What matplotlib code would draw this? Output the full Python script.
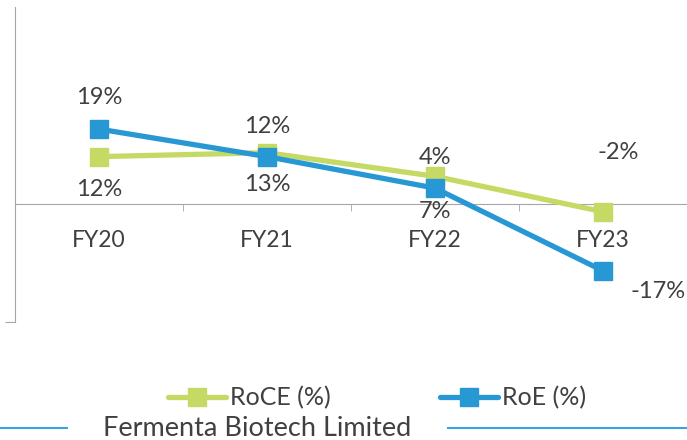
import matplotlib
matplotlib.use("Agg")
import matplotlib.pyplot as plt
from matplotlib.lines import Line2D

plt.rcParams['font.family'] = ['Lato', 'DejaVu Sans']

# data
years = ['FY20', 'FY21', 'FY22', 'FY23']
roce = [12, 13, 7, -2]
roe = [19, 12, 4, -17]

green = '#c5da64'
blue = '#2898d5'
txt = '#404040'
axis_grey = '#a6a6a6'

fig = plt.figure(figsize=(6.87, 4.4), dpi=100)
ax = fig.add_axes([15 / 687, 1 - 322 / 440, 672 / 687, 315 / 440])

x = list(range(len(years)))
ax.plot(x, roce, color=green, lw=3.8, marker='s', ms=12.5, solid_capstyle='round',
        label='RoCE (%)', zorder=3)
ax.plot(x, roe, color=blue, lw=3.8, marker='s', ms=12.5, solid_capstyle='round',
        label='RoE (%)', zorder=4)

# data labels (offsets in points, placed like the source)
roce_off = [(0, -24), (0, -23), (0, -25), (11, 43)]
roe_off = [(0, 23), (0, 22), (0, 22), (40, -15)]
for i in x:
    ax.annotate(f'{roce[i]}%', (i, roce[i]), xytext=roce_off[i], textcoords='offset points',
                ha='center', va='center', fontsize=17, color=txt)
    ax.annotate(f'{roe[i]}%', (i, roe[i]), xytext=roe_off[i], textcoords='offset points',
                ha='center', va='center', fontsize=17, color=txt)

ax.set_xlim(-0.5, 3.5)
ax.set_ylim(-30, 50)

for s in ['top', 'right']:
    ax.spines[s].set_visible(False)
ax.spines['bottom'].set_position(('data', 0))
ax.spines['bottom'].set_color(axis_grey)
ax.spines['left'].set_color(axis_grey)

ax.set_xticks(x)
ax.set_xticklabels(years, fontsize=16.5, color=txt)
ax.tick_params(axis='x', which='major', length=0, pad=19)
ax.set_xticks([0.5, 1.5, 2.5], minor=True)
ax.tick_params(axis='x', which='minor', length=5, color=axis_grey)

ax.set_yticks([-30])
ax.set_yticklabels([''])
ax.tick_params(axis='y', length=7, color=axis_grey)

fig.legend(loc='center', bbox_to_anchor=(377 / 687, 1 - 398 / 440), ncol=2, frameon=False,
           fontsize=18, handlelength=2.3, handletextpad=0.15, columnspacing=4.4,
           labelcolor=txt, markerscale=1.0)

fig.text(257 / 687, 1 - 428 / 440, 'Fermenta Biotech Limited', ha='center', va='center',
         fontsize=19.5, color=txt)
fig.add_artist(Line2D([0, 67 / 687], [1 - 428 / 440] * 2, color='#3aa3de', lw=1.5))
fig.add_artist(Line2D([448 / 687, 1], [1 - 428 / 440] * 2, color='#3aa3de', lw=1.5))

fig.savefig('out.png', dpi=100)
